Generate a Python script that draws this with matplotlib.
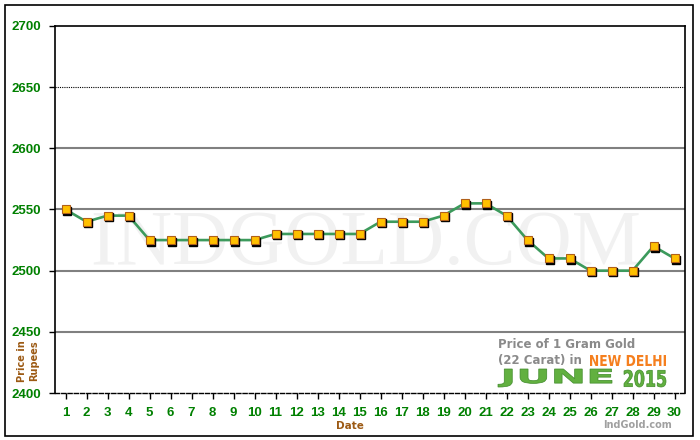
import matplotlib
matplotlib.use('Agg')
import matplotlib.pyplot as plt
import matplotlib.transforms as mtransforms
from matplotlib.patches import Rectangle, PathPatch
from matplotlib.textpath import TextPath
from matplotlib.font_manager import FontProperties

# Gold prices, June 2015, New Delhi (22 carat, per gram)
days = list(range(1, 31))
prices = [2550, 2540, 2545, 2545, 2525, 2525, 2525, 2525, 2525, 2525,
          2530, 2530, 2530, 2530, 2530, 2540, 2540, 2540, 2545, 2555,
          2555, 2545, 2525, 2510, 2510, 2500, 2500, 2500, 2520, 2510]
y_ticks = [2400, 2450, 2500, 2550, 2600, 2650, 2700]

green = '#008000'
brown = '#9c5a14'
W, H = 700, 440


def px(x, y):
    # pixel position (from top-left) -> figure fraction
    return x / W, 1 - y / H


def fit_text(s, x0, x1, ytop, ybot, color, edge='none'):
    # squeeze/stretch a bold text into a pixel box (logo lettering)
    tp = TextPath((0, 0), s, size=10,
                  prop=FontProperties(family='DejaVu Sans', weight='bold'))
    bb = tp.get_extents()
    tr = (mtransforms.Affine2D().translate(-bb.x0, -bb.y0)
          .scale((x1 - x0) / bb.width, (ybot - ytop) / bb.height)
          .translate(x0, H - ybot))
    fig.add_artist(PathPatch(tp, transform=tr, facecolor=color,
                             edgecolor=edge, linewidth=0.5))


fig = plt.figure(figsize=(7, 4.4), dpi=100)
fig.patch.set_facecolor('white')
# outer frame
fig.patches.append(Rectangle((5 / W, 4 / H), 688 / W, 431 / H,
                             transform=fig.transFigure, fill=False,
                             edgecolor='black', linewidth=1.2))

ax = fig.add_axes([55 / W, 47 / H, 630 / W, 367 / H])
ax.set_xlim(0.5, 30.5)
ax.set_ylim(2400, 2700)

# grid lines
for v in [2450, 2500, 2550, 2600]:
    ax.axhline(v, color='#808080', linewidth=1.5, zorder=1)
ax.axhline(2650, color='black', linewidth=0.8, linestyle=(0, (1, 1)), zorder=1)

for s in ['top', 'right', 'left']:
    ax.spines[s].set_color('black')
    ax.spines[s].set_linewidth(1.2)
ax.spines['bottom'].set_linestyle((0, (3, 1.5)))
ax.spines['bottom'].set_linewidth(1.0)

# watermark
ax.text(15.3, 2521, 'INDGOLD.COM', fontsize=56, family='Liberation Serif',
        color='#f1f1f1', ha='center', va='center', zorder=0)

ax.plot(days, prices, color='#3c9a5c', linewidth=1.9, zorder=3)
shadow = mtransforms.offset_copy(ax.transData, fig=fig, x=1.5, y=-1.5, units='dots')
ax.plot(days, prices, linestyle='none', marker='s', markersize=5.5,
        color='black', transform=shadow, zorder=4)
ax.plot(days, prices, linestyle='none', marker='s', markersize=5.5,
        markerfacecolor='#ffc000', markeredgecolor='#b0601a',
        markeredgewidth=0.8, zorder=5)

ax.set_xticks(days)
ax.set_xticklabels([str(d) for d in days])
ax.set_yticks(y_ticks)
ax.tick_params(axis='x', direction='out', length=4, width=1, pad=6,
               labelsize=9.5, labelcolor=green)
ax.tick_params(axis='y', direction='out', length=4, width=1, pad=6,
               labelsize=9.5, labelcolor=green)
for lab in ax.get_xticklabels() + ax.get_yticklabels():
    lab.set_family('Liberation Sans')
    lab.set_fontweight('bold')

fig.text(*px(350, 426), 'Date', color=brown, fontsize=7.5,
         fontweight='bold', ha='center', va='center')
fig.text(*px(28, 361), 'Price in\nRupees', color=brown, fontsize=7,
         fontweight='bold', ha='center', va='center', rotation=90,
         linespacing=1.2)

# title block
grey = '#8a8a8a'
fig.text(*px(498, 345), 'Price of 1 Gram Gold', color=grey, fontsize=8.5,
         fontweight='bold', ha='left', va='center', family='DejaVu Sans')
fig.text(*px(498, 360), '(22 Carat) in', color=grey, fontsize=8.5,
         fontweight='bold', ha='left', va='center', family='DejaVu Sans')
fit_text('NEW DELHI', 590, 666, 355, 366, '#f57f1e')
fit_text('JUNE', 498, 612, 369, 387, '#62b040', edge='#3f8a2a')
fit_text('2015', 624, 666, 370, 387, '#62b040', edge='#3f8a2a')

fig.text(*px(638, 425), 'IndGold.com', color='#a0a0a0', fontsize=7,
         fontweight='bold', ha='center', va='center')

fig.savefig('out.png', dpi=100)
